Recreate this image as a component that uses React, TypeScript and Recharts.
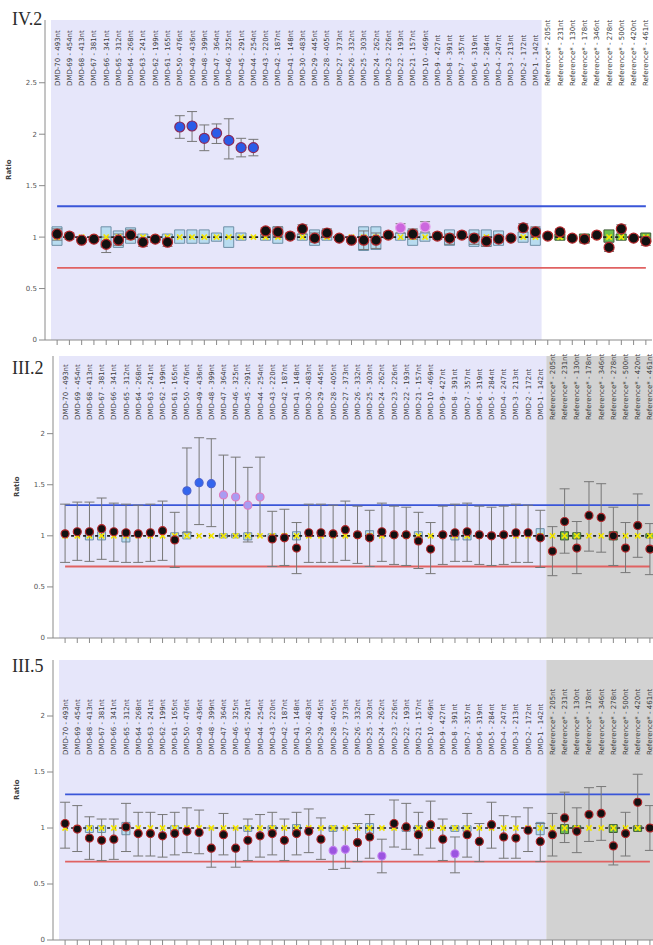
import React from 'react';
import { ComposedChart, Bar, Scatter, ErrorBar, XAxis, YAxis, ReferenceLine, ReferenceArea, Cell } from 'recharts';

const probes = [
  'DMD-70 - 493nt', 'DMD-69 - 454nt', 'DMD-68 - 413nt', 'DMD-67 - 381nt', 'DMD-66 - 341nt',
  'DMD-65 - 312nt', 'DMD-64 - 268nt', 'DMD-63 - 241nt', 'DMD-62 - 199nt', 'DMD-61 - 165nt',
  'DMD-50 - 476nt', 'DMD-49 - 436nt', 'DMD-48 - 399nt', 'DMD-47 - 364nt', 'DMD-46 - 325nt',
  'DMD-45 - 291nt', 'DMD-44 - 254nt', 'DMD-43 - 220nt', 'DMD-42 - 187nt', 'DMD-41 - 148nt',
  'DMD-30 - 483nt', 'DMD-29 - 445nt', 'DMD-28 - 405nt', 'DMD-27 - 373nt', 'DMD-26 - 332nt',
  'DMD-25 - 303nt', 'DMD-24 - 262nt', 'DMD-23 - 226nt', 'DMD-22 - 193nt', 'DMD-21 - 157nt',
  'DMD-10 - 469nt', 'DMD-9 - 427nt', 'DMD-8 - 391nt', 'DMD-7 - 357nt', 'DMD-6 - 319nt',
  'DMD-5 - 284nt', 'DMD-4 - 247nt', 'DMD-3 - 213nt', 'DMD-2 - 172nt', 'DMD-1 - 142nt',
  'Reference* - 205nt', 'Reference* - 231nt', 'Reference* - 130nt', 'Reference* - 178nt',
  'Reference* - 346nt', 'Reference* - 278nt', 'Reference* - 500nt', 'Reference* - 420nt',
  'Reference* - 461nt',
];
const firstRef = 40;

// IV.2
const iv2Ratio = [1.03, 1.01, 0.97, 0.98, 0.93, 0.97, 1.02, 0.95, 0.98, 0.95, 2.07, 2.08, 1.96, 2.01, 1.94, 1.87, 1.87, 1.06, 1.05, 1.01, 1.08, 0.99, 1.04, 0.99, 0.97, 0.97, 0.97, 1.02, 1.09, 1.03, 1.1, 1.01, 0.99, 1.02, 0.99, 0.96, 0.98, 0.99, 1.09, 1.05, 1.01, 1.05, 0.99, 0.98, 1.02, 0.9, 1.08, 0.99, 0.96];
const iv2Lo = [0.97, 0.98, 0.95, 0.96, 0.85, 0.92, 0.98, 0.91, 0.95, 0.91, 1.96, 1.93, 1.84, 1.91, 1.76, 1.78, 1.79, 1.02, 1.0, 0.98, 1.03, 0.95, 1.0, 0.97, 0.95, 0.88, 0.89, 0.99, 1.04, 0.98, 1.05, 0.98, 0.93, 0.99, 0.93, 0.91, 0.95, 0.97, 1.05, 1.0, 0.99, 1.02, 0.97, 0.94, 1.0, 0.86, 1.04, 0.97, 0.92];
const iv2Hi = [1.08, 1.04, 0.99, 1.0, 1.0, 1.03, 1.07, 0.99, 1.0, 0.98, 2.18, 2.22, 2.09, 2.1, 2.15, 1.96, 1.95, 1.09, 1.1, 1.04, 1.12, 1.04, 1.08, 1.01, 0.99, 1.06, 1.04, 1.05, 1.13, 1.08, 1.15, 1.04, 1.03, 1.05, 1.03, 1.0, 1.02, 1.01, 1.13, 1.1, 1.03, 1.08, 1.01, 1.01, 1.04, 0.95, 1.12, 1.01, 1.0];
const iv2BoxLo = [0.92, null, null, null, 0.9, 0.9, 0.94, 0.95, null, 0.95, 0.94, 0.94, 0.94, 0.96, 0.9, 0.97, null, 0.97, 0.94, null, 0.97, 0.92, 0.97, null, null, 0.87, 0.88, null, 0.97, 0.92, 0.96, null, 0.92, null, 0.91, 0.91, 0.92, null, 0.95, 0.92, null, 0.97, null, 0.95, null, 0.95, 0.97, null, 0.95];
const iv2BoxHi = [1.1, null, null, null, 1.1, 1.06, 1.09, 1.03, null, 1.03, 1.07, 1.07, 1.07, 1.04, 1.1, 1.04, null, 1.03, 1.1, null, 1.03, 1.07, 1.07, null, null, 1.1, 1.1, null, 1.04, 1.07, 1.04, null, 1.07, null, 1.07, 1.07, 1.06, null, 1.05, 1.09, null, 1.03, null, 1.03, null, 1.07, 1.03, null, 1.04];
const iv2Call = 'nnnnnnnnnnggggggg' + 'nnnnnnnnnnnmnm' + 'nnnnnnnnnnnnnnnnnn';

// III.2
const iii2Ratio = [1.02, 1.04, 1.04, 1.07, 1.04, 1.03, 1.02, 1.03, 1.05, 0.96, 1.44, 1.52, 1.51, 1.4, 1.38, 1.3, 1.38, 0.97, 0.98, 0.88, 1.03, 1.03, 1.02, 1.06, 1.01, 0.98, 1.04, 1.01, 1.01, 0.95, 0.87, 1.01, 1.03, 1.04, 1.01, 1.0, 1.01, 1.03, 1.03, 0.98, 0.85, 1.14, 0.88, 1.2, 1.18, 1.0, 0.88, 1.1, 0.87];
const iii2Lo = [0.74, 0.76, 0.75, 0.77, 0.75, 0.74, 0.74, 0.75, 0.76, 0.69, 1.03, 1.11, 1.09, 1.0, 1.0, 0.94, 1.0, 0.7, 0.71, 0.63, 0.74, 0.74, 0.74, 0.76, 0.73, 0.7, 0.75, 0.72, 0.71, 0.68, 0.63, 0.72, 0.75, 0.75, 0.72, 0.71, 0.72, 0.74, 0.74, 0.69, 0.61, 0.83, 0.63, 0.85, 0.84, 0.71, 0.64, 0.79, 0.62];
const iii2Hi = [1.31, 1.33, 1.33, 1.37, 1.32, 1.31, 1.3, 1.31, 1.34, 1.23, 1.86, 1.96, 1.95, 1.79, 1.77, 1.67, 1.77, 1.24, 1.26, 1.13, 1.31, 1.31, 1.3, 1.34, 1.29, 1.25, 1.32, 1.29, 1.28, 1.23, 1.13, 1.29, 1.31, 1.32, 1.29, 1.28, 1.29, 1.31, 1.3, 1.25, 1.09, 1.46, 1.14, 1.53, 1.51, 1.28, 1.13, 1.41, 1.12];
const iii2BoxLo = [null, null, 0.96, 0.96, null, 0.94, null, null, null, 0.98, 0.97, null, null, 0.98, 0.98, 0.96, null, 0.98, null, 0.96, null, null, null, null, null, 0.96, null, null, null, 0.96, null, null, 0.96, 0.96, null, null, null, null, null, 0.96, null, 0.96, 0.97, null, null, 0.96, null, null, 0.98];
const iii2BoxHi = [null, null, 1.04, 1.04, null, 1.05, null, null, null, 1.03, 1.04, null, null, 1.02, 1.02, 1.03, null, 1.02, null, 1.04, null, null, null, null, null, 1.05, null, null, null, 1.04, null, null, 1.04, 1.04, null, null, null, null, null, 1.07, null, 1.04, 1.03, null, null, 1.04, null, null, 1.02];
const iii2Call = 'nnnnnnnnnngggmmmm' + 'nnnnnnnnnnnnnnnnnnnnnnnnnnnnnnnn';

// III.5
const iii5Ratio = [1.04, 0.99, 0.91, 0.89, 0.9, 1.01, 0.95, 0.95, 0.93, 0.95, 0.97, 0.96, 0.82, 0.94, 0.82, 0.89, 0.93, 0.95, 0.89, 0.95, 0.97, 0.9, 0.8, 0.81, 0.87, 0.92, 0.75, 1.04, 1.01, 0.94, 1.03, 0.9, 0.77, 0.94, 0.88, 1.03, 0.92, 0.91, 0.98, 0.88, 0.94, 1.09, 0.97, 1.12, 1.13, 0.84, 0.95, 1.23, 1.0];
const iii5Lo = [0.82, 0.79, 0.72, 0.71, 0.72, 0.79, 0.75, 0.75, 0.74, 0.76, 0.78, 0.77, 0.65, 0.76, 0.65, 0.71, 0.74, 0.76, 0.71, 0.76, 0.78, 0.72, 0.63, 0.64, 0.7, 0.73, 0.6, 0.83, 0.81, 0.76, 0.82, 0.71, 0.6, 0.74, 0.7, 0.82, 0.73, 0.73, 0.79, 0.7, 0.75, 0.87, 0.78, 0.88, 0.89, 0.67, 0.75, 1.01, 0.8];
const iii5Hi = [1.23, 1.2, 1.1, 1.08, 1.08, 1.22, 1.14, 1.14, 1.12, 1.14, 1.18, 1.16, 1.0, 1.13, 1.0, 1.08, 1.12, 1.14, 1.08, 1.14, 1.17, 1.09, 1.0, 1.0, 1.04, 1.12, 0.9, 1.25, 1.22, 1.14, 1.24, 1.08, 0.92, 1.13, 1.04, 1.23, 1.11, 1.1, 1.18, 1.04, 1.13, 1.32, 1.18, 1.36, 1.37, 1.01, 1.14, 1.48, 1.2];
const iii5BoxLo = [null, null, 0.96, 0.96, null, 0.94, null, null, null, 0.97, null, null, null, null, null, 0.97, null, 0.97, null, 0.97, null, null, 0.97, null, null, 0.95, null, null, 0.97, 0.97, null, null, 0.97, 0.97, null, null, null, null, null, 0.94, null, 0.95, 0.97, null, null, 0.96, null, 0.97, null];
const iii5BoxHi = [null, null, 1.02, 1.02, null, 1.05, null, null, null, 1.02, null, null, null, null, null, 1.02, null, 1.02, null, 1.03, null, null, 1.02, null, null, 1.04, null, null, 1.02, 1.02, null, null, 1.02, 1.02, null, null, null, null, null, 1.05, null, 1.03, 1.02, null, null, 1.03, null, 1.02, null];
const iii5Call = 'nnnnnnnnnnnnnnnnnnnnnn' + 'mmnnmnnnnnm' + 'nnnnnnnnnnnnnnnn';

const ticksTall = [0, 0.5, 1, 1.5, 2, 2.5];
const ticksShort = [0, 0.5, 1, 1.5, 2];

function buildRows(ratio: number[], lo: number[], hi: number[], boxLo: (number | null)[], boxHi: (number | null)[], call: string) {
  return probes.map((probe, i) => ({
    probe,
    ratio: ratio[i],
    ci: [ratio[i] - lo[i], hi[i] - ratio[i]],
    box: boxLo[i] == null ? null : [boxLo[i], boxHi[i]],
    one: 1,
    call: call[i],
    isRef: i >= firstRef,
  }));
}

const YellowX = (p: any) => {
  const s = 2.6;
  return (
    <g stroke="#f3e600" strokeWidth={1.7}>
      <line x1={p.cx - s} y1={p.cy - s} x2={p.cx + s} y2={p.cy + s} />
      <line x1={p.cx - s} y1={p.cy + s} x2={p.cx + s} y2={p.cy - s} />
    </g>
  );
};

interface PanelProps {
  top: number;
  height: number;
  marginTop: number;
  marginLeft: number;
  marginRight: number;
  yMax: number;
  ticks: number[];
  labelY: number;
  r: number;
  barSize: number;
  mildFill: string;
  mildStroke: string;
  gainFill: string;
  gainStroke: string;
  rows: ReturnType<typeof buildRows>;
}

function Panel(p: PanelProps) {
  const last = probes[probes.length - 1];
  const point = (s: any) => {
    const c = s.payload.call;
    const fill = c === 'g' ? p.gainFill : c === 'm' ? p.mildFill : '#111';
    const stroke = c === 'g' ? p.gainStroke : c === 'm' ? p.mildStroke : '#b3262a';
    return <circle cx={s.cx} cy={s.cy} r={p.r} fill={fill} stroke={stroke} strokeWidth={1.2} />;
  };
  const probeTick = (t: any) => (
    <text
      transform={`translate(${t.x + 2.5},${p.labelY}) rotate(-90)`}
      fontSize={7}
      fill="#3a3a3a"
      fontFamily="DejaVu Sans, sans-serif"
    >
      {t.payload.value}
    </text>
  );
  return (
    <div style={{ position: 'absolute', left: 0, top: p.top, width: 660, height: p.height }}>
      <ComposedChart
        width={660}
        height={p.height}
        data={p.rows}
        margin={{ top: p.marginTop, right: p.marginRight, left: p.marginLeft, bottom: 0 }}
      >
        <ReferenceArea x1={probes[0]} x2={probes[firstRef - 1]} fill="#e6e6fa" fillOpacity={1} stroke="none" />
        <ReferenceArea x1={probes[firstRef]} x2={last} fill="#d2d2d2" fillOpacity={1} stroke="none" />
        <XAxis
          dataKey="probe"
          interval={0}
          height={8}
          tickSize={5}
          padding={{ left: 6, right: 0 }}
          stroke="#8a8a8a"
          tick={probeTick}
        />
        <YAxis
          domain={[0, p.yMax]}
          ticks={p.ticks}
          allowDataOverflow
          width={38}
          tickSize={6}
          stroke="#8a8a8a"
          tick={{ fontSize: 7, fill: '#555', fontFamily: 'DejaVu Sans, sans-serif' }}
          label={{ value: 'Ratio', angle: -90, position: 'insideLeft', offset: 2, fontSize: 7, fontWeight: 'bold', fill: '#444', fontFamily: 'DejaVu Sans, sans-serif' }}
        />
        <Bar dataKey="box" barSize={p.barSize} isAnimationActive={false}>
          {p.rows.map((row, i) => (
            <Cell
              key={i}
              fill={row.isRef ? '#6cbf4c' : '#b8dcf0'}
              stroke={row.isRef ? '#3d5c33' : '#6f8fa6'}
              strokeWidth={1}
            />
          ))}
        </Bar>
        <ReferenceLine segment={[{ x: probes[0], y: 1.3 }, { x: last, y: 1.3 }]} stroke="#3a56d8" strokeWidth={1.8} />
        <ReferenceLine segment={[{ x: probes[0], y: 0.7 }, { x: last, y: 0.7 }]} stroke="#e06262" strokeWidth={1.8} />
        <ReferenceLine segment={[{ x: probes[0], y: 1 }, { x: last, y: 1 }]} stroke="#222" strokeWidth={1.6} strokeDasharray="3 3" />
        <Scatter dataKey="one" shape={YellowX} isAnimationActive={false} />
        <Scatter dataKey="ratio" shape={point} isAnimationActive={false}>
          <ErrorBar dataKey="ci" direction="y" width={5} stroke="#777" strokeWidth={1} />
        </Scatter>
      </ComposedChart>
    </div>
  );
}

const titleStyle: React.CSSProperties = {
  position: 'absolute',
  left: 12,
  fontFamily: 'Liberation Serif, serif',
  fontSize: 18,
  color: '#2a2a2a',
  lineHeight: '18px',
};

export default function App() {
  const rows1 = buildRows(iv2Ratio, iv2Lo, iv2Hi, iv2BoxLo, iv2BoxHi, iv2Call);
  const rows2 = buildRows(iii2Ratio, iii2Lo, iii2Hi, iii2BoxLo, iii2BoxHi, iii2Call);
  const rows3 = buildRows(iii5Ratio, iii5Lo, iii5Hi, iii5BoxLo, iii5BoxHi, iii5Call);
  return (
    <div style={{ position: 'absolute', left: 0, top: 0, width: 653, height: 945, overflow: 'hidden', background: '#fff' }}>
      <Panel
        top={0} height={348} marginTop={20} marginLeft={7} marginRight={8} yMax={3.11} ticks={ticksTall}
        labelY={86} r={5} barSize={10}
        mildFill="#cc66dd" mildStroke="#e6a2ea" gainFill="#2a5ce8" gainStroke="#8a2a5a"
        rows={rows1}
      />
      <Panel
        top={340} height={306} marginTop={16} marginLeft={15} marginRight={4} yMax={2.76} ticks={ticksShort}
        labelY={80} r={4} barSize={8}
        mildFill="#a99cf2" mildStroke="#e07cc0" gainFill="#3366ee" gainStroke="#4a62d0"
        rows={rows2}
      />
      <Panel
        top={645} height={303} marginTop={15} marginLeft={15} marginRight={4} yMax={2.5} ticks={ticksShort}
        labelY={110} r={4} barSize={8}
        mildFill="#9b55e0" mildStroke="#c27ff0" gainFill="#3366ee" gainStroke="#4a62d0"
        rows={rows3}
      />
      <div style={{ ...titleStyle, top: 10 }}>IV.2</div>
      <div style={{ ...titleStyle, top: 359 }}>III.2</div>
      <div style={{ ...titleStyle, top: 657 }}>III.5</div>
    </div>
  );
}
